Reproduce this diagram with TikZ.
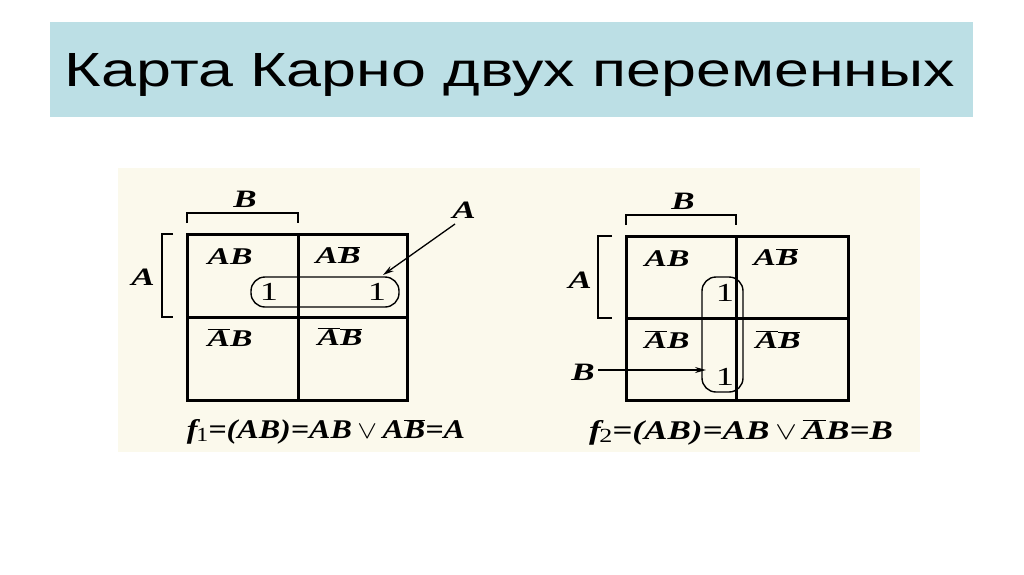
\documentclass[tikz,border=0pt]{standalone}
\usepackage{fontspec}
\setmainfont{Liberation Serif}
\newfontfamily\titlefont{Liberation Sans}
\usetikzlibrary{arrows.meta}
\definecolor{banner}{HTML}{BCDFE5}
\definecolor{paper}{HTML}{FBF9EC}
\newcommand{\bi}[1]{\textbf{\textit{#1}}}
\newcommand{\nb}[1]{$\overline{\hbox{\bi{#1}}}$}
\newcommand{\sx}[1]{\scalebox{1.4}[1]{#1}}
\tikzset{
  frame/.style={line width=3pt},
  brk/.style={line width=2.4pt},
  loopbox/.style={line width=1.4pt, rounded corners=14pt},
  cell/.style={font=\fontsize{24}{26}\selectfont\bfseries\itshape, inner sep=0pt},
  one/.style={font=\fontsize{26}{28}\selectfont, inner sep=0pt},
  lbl/.style={font=\fontsize{25}{27}\selectfont\bfseries\itshape, inner sep=0pt},
  formula/.style={font=\fontsize{27}{29}\selectfont\bfseries\itshape, inner sep=0pt},
  pointer/.style={line width=1.3pt, -{Stealth[length=11pt,width=6pt]}}
}
\begin{document}
\begin{tikzpicture}[x=1pt,y=-1pt]
\useasboundingbox (0,0) rectangle (1024,574);
\fill[white] (0,0) rectangle (1024,574);
% banner
\fill[banner] (50,22) rectangle (973,117);
\node[inner sep=0pt, anchor=base] (title) at (510,86) {\resizebox{890pt}{33pt}{\titlefont Карта Карно двух переменных}};
% paper area
\fill[paper] (118,168) rectangle (920,452);

% ---------- left map ----------
\draw[frame] (187,234) rectangle (407,400);
\draw[frame] (298,234) -- (298,400);
\draw[frame] (187,317) -- (407,317);
\draw[brk] (187,223) -- (187,213) -- (298,213) -- (298,223);
\node[lbl] (lB) at (245,199) {\sx{B}};
\draw[brk] (173,234) -- (162,234) -- (162,317) -- (173,317);
\node[lbl] (lA) at (143,277) {\sx{A}};
\node[cell] (l11) at (230,257) {\sx{AB}};
\node[cell] (l12) at (338,255) {\sx{A\nb{B}}};
\node[cell] (l21) at (230,338) {\sx{\nb{A}B}};
\node[cell] (l22) at (340,337) {\sx{\nb{A}\nb{B}}};
\node[one] (lo1) at (269,292) {\sx{1}};
\node[one] (lo2) at (377,292) {\sx{1}};
\draw[loopbox] (251,277) rectangle (399,307);
\node[lbl] (lA2) at (464,210) {\sx{A}};
\draw[pointer] (455,224) -- (383,275);
\node[formula] (lf) at (326,432) {\scalebox{1.19}[1]{\bi{f}\kern-1pt{\normalfont\fontsize{20}{22}\selectfont\raisebox{-3pt}{1}}=(AB)=AB\,{\normalfont$\vee$}\,A\nb{B}=A}};

% ---------- right map ----------
\draw[frame] (626,236) rectangle (848,400);
\draw[frame] (736,236) -- (736,400);
\draw[frame] (626,318) -- (848,318);
\draw[brk] (626,225) -- (626,215) -- (736,215) -- (736,225);
\node[lbl] (rB) at (683,201) {\sx{B}};
\draw[brk] (612,236) -- (598,236) -- (598,318) -- (612,318);
\node[lbl] (rA) at (580,280) {\sx{A}};
\node[cell] (r11) at (667,259) {\sx{AB}};
\node[cell] (r12) at (776,257) {\sx{A\nb{B}}};
\node[cell] (r21) at (667,340) {\sx{\nb{A}B}};
\node[cell] (r22) at (778,340) {\sx{\nb{A}\nb{B}}};
\node[one] (ro1) at (725,293) {\sx{1}};
\node[one] (ro2) at (725,377) {\sx{1}};
\draw[loopbox] (702,277) rectangle (743,392);
\node[lbl] (rB2) at (583,372) {\sx{B}};
\draw[pointer] (598,370) -- (706,370);
\node[formula] (rf) at (741,432) {\scalebox{1.3}[1]{\bi{f}\kern-1pt{\normalfont\fontsize{20}{22}\selectfont\raisebox{-3pt}{2}}=(AB)=AB\,{\normalfont$\vee$}\,\nb{A}B=B}};
\end{tikzpicture}
\end{document}
